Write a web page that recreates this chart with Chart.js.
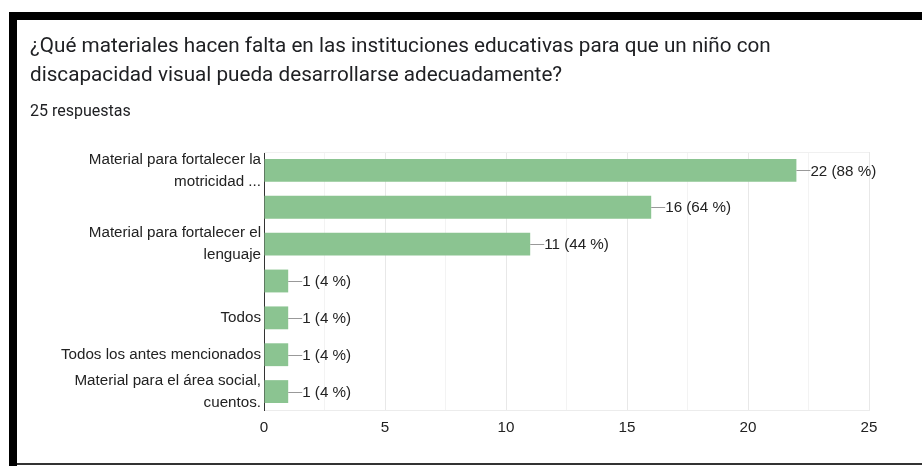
<!DOCTYPE html>
<html>
<head>
<meta charset="utf-8">
<script src="https://cdn.jsdelivr.net/npm/chart.js@4.4.0/dist/chart.umd.min.js"></script>
<style>
  html, body { margin: 0; padding: 0; background: #fff; }
  #wrap { position: relative; width: 922px; height: 466px; overflow: hidden; }
  #chart { position: absolute; left: 0; top: 0; }
  .bar-top { position: absolute; left: 9px; top: 12px; width: 913px; height: 8px; background: #000; }
  .bar-left { position: absolute; left: 9px; top: 12px; width: 8px; height: 454px; background: #000; }
  .bar-bottom { position: absolute; left: 17px; top: 463px; width: 905px; height: 2px; background: #333; }
  .title { position: absolute; left: 30px; top: 31px; width: 880px; font-family: Roboto, "Noto Sans", sans-serif; font-size: 20.7px; line-height: 29px; color: #202124; white-space: nowrap; }
  .count { position: absolute; left: 30px; top: 101px; font-family: Roboto, sans-serif; font-size: 16px; color: #202124; }
</style>
</head>
<body>
<div id="wrap">
  <canvas id="chart" width="922" height="466"></canvas>
  <div class="bar-top"></div>
  <div class="bar-left"></div>
  <div class="bar-bottom"></div>
  <div class="title">¿Qué materiales hacen falta en las instituciones educativas para que un niño con<br>discapacidad visual pueda desarrollarse adecuadamente?</div>
  <div class="count">25 respuestas</div>
</div>
<script>
const categories = [
  ["Material para fortalecer la", "motricidad ..."],
  "",
  ["Material para fortalecer el", "lenguaje"],
  "",
  "Todos",
  "Todos los antes mencionados",
  ["Material para el área social,", "cuentos."],
];
const counts = [22, 16, 11, 1, 1, 1, 1];
const totalAnswers = 25;

const labelFont = "'Liberation Sans', Arial, sans-serif";
const labelSize = 15.2;

// leader line + "n (p %)" next to each bar
const valueLabels = {
  id: "valueLabels",
  afterDatasetsDraw(chart) {
    const ctx = chart.ctx;
    const meta = chart.getDatasetMeta(0);
    ctx.save();
    ctx.font = labelSize + "px " + labelFont;
    ctx.textBaseline = "middle";
    meta.data.forEach((bar, i) => {
      const v = counts[i];
      const pct = Math.round((v / totalAnswers) * 100);
      ctx.strokeStyle = "#999";
      ctx.lineWidth = 1;
      ctx.beginPath();
      ctx.moveTo(bar.x, Math.round(bar.y) + 0.5);
      ctx.lineTo(bar.x + 14, Math.round(bar.y) + 0.5);
      ctx.stroke();
      ctx.fillStyle = "#222";
      ctx.fillText(v + " (" + pct + " %)", bar.x + 14, bar.y + 1);
    });
    ctx.restore();
  },
};

const plotTop = {
  id: "plotTop",
  beforeDatasetsDraw(chart) {
    const { ctx, chartArea } = chart;
    ctx.save();
    ctx.strokeStyle = "#f0f0f0";
    ctx.beginPath();
    ctx.moveTo(chartArea.left, chartArea.top + 0.5);
    ctx.lineTo(chartArea.right, chartArea.top + 0.5);
    ctx.stroke();
    ctx.restore();
  },
};

new Chart(document.getElementById("chart"), {
  type: "bar",
  data: {
    labels: categories,
    datasets: [
      {
        data: counts,
        backgroundColor: "#8bc491",
        categoryPercentage: 1,
        barPercentage: 0.62,
      },
    ],
  },
  options: {
    indexAxis: "y",
    responsive: false,
    animation: false,
    layout: { padding: { top: 152, right: 53, bottom: 0, left: 0 } },
    plugins: { legend: { display: false }, tooltip: { enabled: false } },
    scales: {
      x: {
        min: 0,
        max: 25,
        ticks: {
          stepSize: 2.5,
          padding: 9,
          autoSkip: false,
          maxRotation: 0,
          color: "#222",
          font: { family: labelFont, size: labelSize },
          callback: (v) => (v % 5 === 0 ? v : ""),
        },
        grid: {
          drawTicks: false,
          color: (c) => (c.tick && c.tick.value % 5 === 0 ? "#e8e8e8" : "#f3f3f3"),
        },
        border: { color: "#ececec" },
        afterFit: (s) => { s.height = 56; },
      },
      y: {
        ticks: {
          padding: 3,
          autoSkip: false,
          color: "#222",
          font: { family: labelFont, size: labelSize, lineHeight: 1.45 },
        },
        grid: { display: false, drawTicks: false },
        border: { display: true, color: "#333", width: 1 },
        afterFit: (s) => { s.width = 264; },
      },
    },
  },
  plugins: [plotTop, valueLabels],
});
</script>
</body>
</html>
